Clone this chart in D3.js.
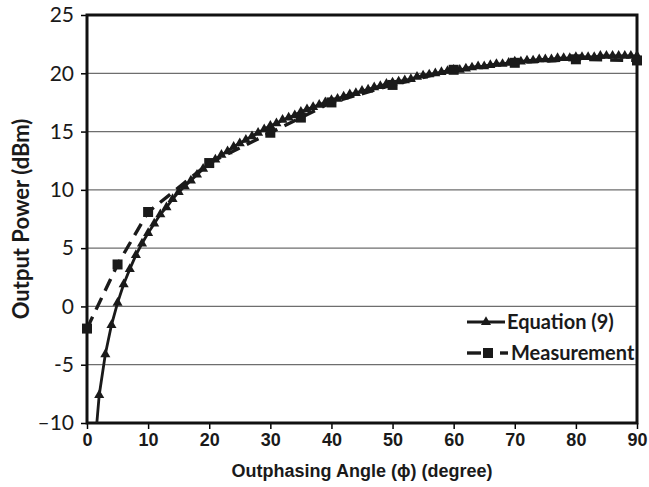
<!DOCTYPE html>
<html>
<head>
<meta charset="utf-8">
<script src="https://cdn.jsdelivr.net/npm/d3@7"></script>
<style>
  body { margin: 0; background: #fff; }
  svg { display: block; }
</style>
</head>
<body>
<div class="chart"></div>
<script>
"use strict";

// Equation (9): one point per degree, 1..90
var eqAngles = d3.range(1, 91);
var eqPower = [
    -13.7, -7.6, -4.1, -1.6, 0.3, 1.9, 3.2, 4.4, 5.4, 6.3,
    7.1, 7.9, 8.5, 9.2, 9.8, 10.3, 10.8, 11.3, 11.8, 12.2,
    12.6, 13.0, 13.3, 13.7, 14.0, 14.3, 14.6, 14.9, 15.2, 15.5,
    15.7, 16.0, 16.2, 16.4, 16.7, 16.9, 17.1, 17.3, 17.5, 17.7,
    17.8, 18.0, 18.2, 18.3, 18.5, 18.6, 18.8, 18.9, 19.1, 19.2,
    19.3, 19.4, 19.5, 19.7, 19.8, 19.9, 20.0, 20.1, 20.2, 20.3,
    20.3, 20.4, 20.5, 20.6, 20.6, 20.7, 20.8, 20.8, 20.9, 21.0,
    21.0, 21.1, 21.1, 21.2, 21.2, 21.2, 21.3, 21.3, 21.3, 21.4,
    21.4, 21.4, 21.4, 21.5, 21.5, 21.5, 21.5, 21.5, 21.5, 21.5
];

// Measurement
var measAngles = [0, 5, 10, 20, 30, 35, 40, 50, 60, 70, 80, 90];
var measPower = [-1.9, 3.6, 8.1, 12.3, 14.9, 16.2, 17.5, 19.0, 20.3, 20.9, 21.2, 21.1];

var xTicks = [0, 10, 20, 30, 40, 50, 60, 70, 80, 90];
var yTicks = [-10, -5, 0, 5, 10, 15, 20, 25];
var yTickLabels = ["\u201310", "-5", "0", "5", "10", "15", "20", "25"];

var legendNames = ["Equation (9)", "Measurement"];

function renderChart() {
    var width = 649;
    var height = 487;
    var margin = { top: 15, right: 12, bottom: 64, left: 87 };
    var w = width - margin.left - margin.right;
    var h = height - margin.top - margin.bottom;
    var ink = "#1a1a1a";

    var svg = d3.select(".chart").append("svg")
        .attr("width", width)
        .attr("height", height);

    var g = svg.append("g")
        .attr("transform", "translate(" + margin.left + "," + margin.top + ")");

    var x = d3.scaleLinear().domain([0, 90]).range([0, w]);
    var y = d3.scaleLinear().domain([-10, 25]).range([h, 0]);

    // gridlines
    g.append("g")
        .selectAll("line")
        .data(yTicks.filter(function (d) { return d > -10 && d < 25; }))
        .join("line")
        .attr("x1", 0)
        .attr("x2", w)
        .attr("y1", function (d) { return y(d); })
        .attr("y2", function (d) { return y(d); })
        .style("stroke", "#6e6e6e")
        .style("stroke-width", 1.3);

    // y axis
    var yAxis = g.append("g")
        .call(d3.axisLeft(y).tickValues(yTicks).tickSize(6).tickSizeOuter(0)
            .tickFormat(function (d, i) { return yTickLabels[i]; }));
    yAxis.select(".domain").remove();
    yAxis.selectAll("line").style("stroke", "#000").style("stroke-width", 1.5);
    yAxis.selectAll("text")
        .attr("x", -13)
        .style("font-family", "Lato, 'Open Sans', sans-serif")
        .style("font-size", "21px")
        .style("fill", ink);

    // x axis
    var xAxis = g.append("g")
        .attr("transform", "translate(0," + h + ")")
        .call(d3.axisBottom(x).tickValues(xTicks).tickSize(6).tickSizeOuter(0));
    xAxis.select(".domain").remove();
    xAxis.selectAll("line").style("stroke", "#000").style("stroke-width", 1.5);
    xAxis.selectAll("text")
        .attr("y", 10)
        .style("font-family", "'Liberation Sans', Arial, sans-serif")
        .style("font-weight", "bold")
        .style("font-size", "18px")
        .style("fill", ink);

    // frame
    g.append("rect")
        .attr("x", 0)
        .attr("y", 0)
        .attr("width", w)
        .attr("height", h)
        .style("fill", "none")
        .style("stroke", "#111")
        .style("stroke-width", 3);

    // clip for lines
    svg.append("defs").append("clipPath")
        .attr("id", "plotclip")
        .append("rect")
        .attr("x", 0)
        .attr("y", 0)
        .attr("width", w)
        .attr("height", h);

    var eqData = eqAngles.map(function (a, i) { return { a: a, p: eqPower[i] }; });
    var measData = measAngles.map(function (a, i) { return { a: a, p: measPower[i] }; });

    var line = d3.line()
        .x(function (d) { return x(d.a); })
        .y(function (d) { return y(d.p); });

    // measurement dashed line
    g.append("path")
        .datum(measData)
        .attr("clip-path", "url(#plotclip)")
        .attr("d", line)
        .style("fill", "none")
        .style("stroke", ink)
        .style("stroke-width", 3.4)
        .style("stroke-dasharray", "13,8");

    // equation solid line
    g.append("path")
        .datum(eqData)
        .attr("clip-path", "url(#plotclip)")
        .attr("d", line)
        .style("fill", "none")
        .style("stroke", ink)
        .style("stroke-width", 2.8);

    var tri = d3.symbol().type(d3.symbolTriangle).size(44);
    var sq = d3.symbol().type(d3.symbolSquare).size(100);

    g.append("g")
        .selectAll("path")
        .data(eqData.filter(function (d) { return d.p >= -10; }))
        .join("path")
        .attr("transform", function (d) { return "translate(" + x(d.a) + "," + y(d.p) + ")"; })
        .attr("d", tri)
        .style("fill", ink);

    g.append("g")
        .selectAll("path")
        .data(measData)
        .join("path")
        .attr("transform", function (d) { return "translate(" + x(d.a) + "," + y(d.p) + ")"; })
        .attr("d", sq)
        .style("fill", ink);

    // legend
    var legend = svg.append("g").attr("transform", "translate(467,322)");
    legend.append("line")
        .attr("x1", 0).attr("x2", 38).attr("y1", 0).attr("y2", 0)
        .style("stroke", ink).style("stroke-width", 2.8);
    legend.append("path")
        .attr("transform", "translate(19,0)")
        .attr("d", tri)
        .style("fill", ink);
    legend.append("line")
        .attr("x1", 0).attr("x2", 14).attr("y1", 31).attr("y2", 31)
        .style("stroke", ink).style("stroke-width", 3.4);
    legend.append("line")
        .attr("x1", 33).attr("x2", 41).attr("y1", 31).attr("y2", 31)
        .style("stroke", ink).style("stroke-width", 3.4);
    legend.append("path")
        .attr("transform", "translate(21,31)")
        .attr("d", sq)
        .style("fill", ink);
    legend.selectAll("text")
        .data(legendNames)
        .join("text")
        .attr("x", function (d, i) { return i === 0 ? 40 : 44; })
        .attr("y", function (d, i) { return i * 31; })
        .attr("dy", "0.35em")
        .style("font-family", "Lato, 'Open Sans', sans-serif")
        .style("font-weight", "bold")
        .style("font-size", "20px")
        .style("fill", ink)
        .text(function (d) { return d; });

    // axis titles
    svg.append("text")
        .attr("x", margin.left + w / 2)
        .attr("y", 477)
        .attr("text-anchor", "middle")
        .style("font-family", "'Liberation Sans', Arial, sans-serif")
        .style("font-weight", "bold")
        .style("font-size", "18px")
        .style("fill", ink)
        .text("Outphasing Angle (\u03d5) (degree)");

    svg.append("text")
        .attr("transform", "translate(29," + (margin.top + h / 2) + ") rotate(-90)")
        .attr("text-anchor", "middle")
        .style("font-family", "Lato, 'Open Sans', sans-serif")
        .style("font-weight", "bold")
        .style("font-size", "22px")
        .style("fill", ink)
        .text("Output Power (dBm)");
}

renderChart();
</script>
</body>
</html>
